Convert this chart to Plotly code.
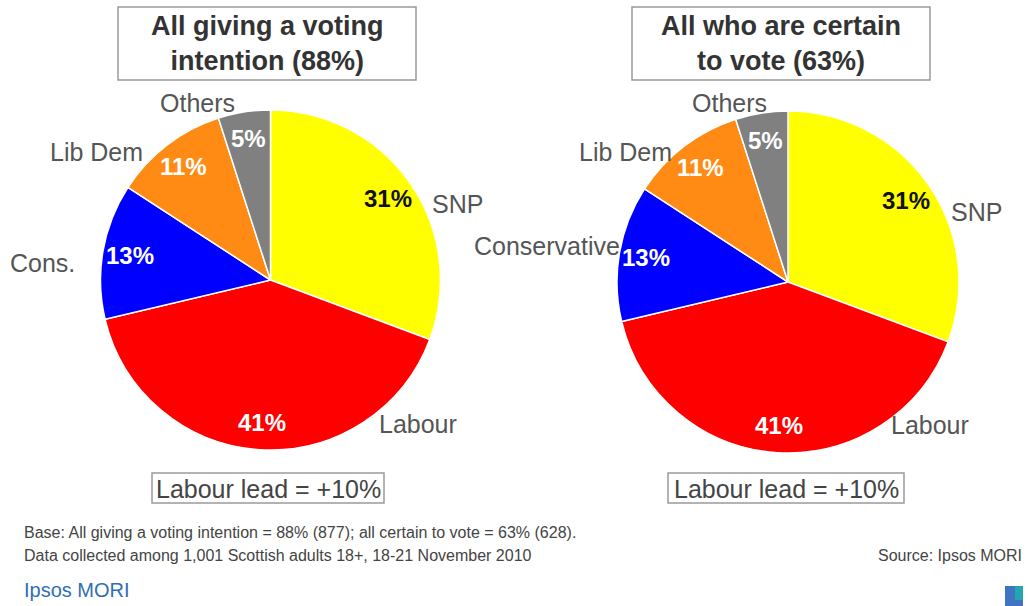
import math
import plotly.graph_objects as go

# ---- data -------------------------------------------------------------
parties = ["SNP", "Labour", "Cons.", "Lib Dem", "Others"]
parties_right = ["SNP", "Labour", "Conservative", "Lib Dem", "Others"]
share_all = [31, 41, 13, 11, 5]        # all giving a voting intention
share_certain = [31, 41, 13, 11, 5]    # all certain to vote
panel_titles = ["All giving a voting<br>intention (88%)", "All who are certain<br>to vote (63%)"]
lead_text = "Labour lead = +10%"

# ---- styling ----------------------------------------------------------
W, H = 1028, 606
colors = ["#FFFF00", "#FF0000", "#0000FF", "#FF8A14", "#808080"]
pct_colors = ["#111111", "white", "white", "white", "white"]
FONT = "Liberation Sans, Arial, sans-serif"

# pie centres and radii in pixels
pies = [
    dict(cx=270.5, cy=280, r=170, values=share_all, names=parties,
         name_pos=[(457, 204), (418, 424), (42, 263), (96, 152), (197, 103)]),
    dict(cx=788, cy=282, r=171, values=share_certain, names=parties_right,
         name_pos=[(976, 212), (930, 425), (547, 246), (625, 152), (729, 103)]),
]


def px(x):
    return x / W


def py(y):
    return 1 - y / H


fig = go.Figure()
annotations = []
shapes = []

for p in pies:
    cx, cy, r = p["cx"], p["cy"], p["r"]
    fig.add_trace(go.Pie(
        labels=p["names"], values=p["values"], sort=False,
        direction="clockwise", rotation=0,
        marker=dict(colors=colors, line=dict(color="white", width=1.5)),
        textinfo="none", hoverinfo="label+value", showlegend=False,
        domain=dict(x=[px(cx - r), px(cx + r)], y=[py(cy + r), py(cy - r)]),
    ))

    # percentage labels on each slice, along the slice bisector
    total = sum(p["values"])
    cum = 0
    for v, c in zip(p["values"], pct_colors):
        mid = (cum + v / 2) / total * 2 * math.pi
        cum += v
        rr = r * 0.84
        x = cx + rr * math.sin(mid)
        y = cy - rr * math.cos(mid)
        annotations.append(dict(
            x=px(x), y=py(y), xref="paper", yref="paper", showarrow=False,
            text=f"<b>{v}%</b>", font=dict(family=FONT, size=24, color=c),
            xanchor="center", yanchor="middle"))

    # category names outside the pie
    for name, (x, y) in zip(p["names"], p["name_pos"]):
        annotations.append(dict(
            x=px(x), y=py(y), xref="paper", yref="paper", showarrow=False,
            text=name, font=dict(family=FONT, size=25, color="#555555"),
            xanchor="center", yanchor="middle"))

# title boxes above each pie
for (x0, x1), title in zip([(118, 416), (632, 930)], panel_titles):
    shapes.append(dict(type="rect", xref="paper", yref="paper",
                       x0=px(x0), x1=px(x1), y0=py(80), y1=py(7),
                       line=dict(color="#9a9a9a", width=1.5)))
    annotations.append(dict(
        x=px((x0 + x1) / 2), y=py(44), xref="paper", yref="paper",
        showarrow=False, text=f"<b>{title}</b>",
        font=dict(family=FONT, size=27, color="#333333"),
        xanchor="center", yanchor="middle"))

# lead boxes below each pie
for x0, x1 in [(152, 384), (668, 904)]:
    shapes.append(dict(type="rect", xref="paper", yref="paper",
                       x0=px(x0), x1=px(x1), y0=py(503), y1=py(473),
                       line=dict(color="#9a9a9a", width=1.5)))
    annotations.append(dict(
        x=px((x0 + x1) / 2), y=py(488.5), xref="paper", yref="paper",
        showarrow=False, text=lead_text,
        font=dict(family=FONT, size=25, color="#444444"),
        xanchor="center", yanchor="middle"))

# footnotes
annotations += [
    dict(x=px(22), y=py(532), xref="paper", yref="paper", showarrow=False,
         text="Base: All giving a voting intention = 88% (877); all certain to vote = 63% (628).",
         font=dict(family=FONT, size=16, color="#444444"),
         xanchor="left", yanchor="middle"),
    dict(x=px(22), y=py(555), xref="paper", yref="paper", showarrow=False,
         text="Data collected among 1,001 Scottish adults 18+, 18-21 November 2010",
         font=dict(family=FONT, size=16, color="#444444"),
         xanchor="left", yanchor="middle"),
    dict(x=px(1024), y=py(555), xref="paper", yref="paper", showarrow=False,
         text="Source: Ipsos MORI",
         font=dict(family=FONT, size=16, color="#444444"),
         xanchor="right", yanchor="middle"),
    dict(x=px(22), y=py(590), xref="paper", yref="paper", showarrow=False,
         text="Ipsos MORI",
         font=dict(family=FONT, size=20, color="#2f6fb5"),
         xanchor="left", yanchor="middle"),
]

# small logo block, bottom right
shapes.append(dict(type="rect", xref="paper", yref="paper",
                   x0=px(1005), x1=px(1023), y0=py(606), y1=py(586),
                   line=dict(width=0), fillcolor="#3f74c0"))
shapes.append(dict(type="rect", xref="paper", yref="paper",
                   x0=px(1015), x1=px(1023), y0=py(600), y1=py(586),
                   line=dict(width=0), fillcolor="#22a7b0"))

fig.update_layout(
    width=W, height=H, autosize=False,
    margin=dict(l=0, r=0, t=0, b=0),
    paper_bgcolor="white", plot_bgcolor="white",
    annotations=annotations, shapes=shapes,
    font=dict(family=FONT),
)

fig.write_html("out.html")
